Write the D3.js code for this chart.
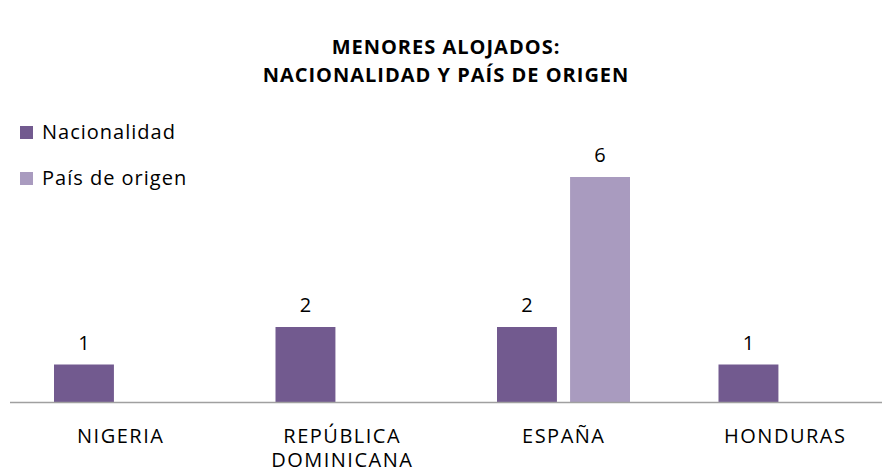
<!DOCTYPE html>
<html>
<head>
<meta charset="utf-8">
<script src="https://cdn.jsdelivr.net/npm/d3@7"></script>
<style>
  body { margin: 0; background: white; }
  svg { font-family: "Open Sans", sans-serif; }
</style>
</head>
<body>
<div id="chart"></div>
<script>
// data
const categories = ["NIGERIA", "REPÚBLICA\nDOMINICANA", "ESPAÑA", "HONDURAS"]
const seriesNames = ["Nacionalidad", "País de origen"]
const nacionalidad = [1, 2, 2, 1]
const paisOrigen = [null, null, 6, null]
const titleLines = ["MENORES ALOJADOS:", "NACIONALIDAD Y PAÍS DE ORIGEN"]

const W = 882, H = 474
const colors = ["#725a8f", "#a99bbf"]

let svg = d3.select("#chart").append("svg")
    .attr("width", W).attr("height", H)

// plot runs past the right edge like the original
let x0 = d3.scaleBand().domain(d3.range(categories.length)).range([10, 896])
let x1 = d3.scaleBand().domain([0, 1]).range([44, 177]).paddingInner(0.18)
let y = d3.scaleLinear().domain([0, 6]).range([402, 177])

let rows = categories.map((c, i) => ({ i: i, vals: [nacionalidad[i], paisOrigen[i]] }))

let g = svg.selectAll("g.cat").data(rows).enter().append("g")
    .attr("class", "cat")
    .attr("transform", d => `translate(${x0(d.i)},0)`)

let bars = g.selectAll("g.bar")
    .data(d => d.vals.map((v, s) => ({ v: v, s: s })).filter(d => d.v != null))
    .enter().append("g")

bars.append("rect")
    .attr("x", d => x1(d.s))
    .attr("width", x1.bandwidth())
    .attr("y", d => y(d.v))
    .attr("height", d => y(0) - y(d.v))
    .attr("fill", d => colors[d.s])

bars.append("text")
    .attr("x", d => x1(d.s) + x1.bandwidth() / 2)
    .attr("y", d => y(d.v) - 15)
    .attr("text-anchor", "middle")
    .attr("font-size", 20)
    .attr("fill", "#000")
    .text(d => d.v)

// baseline
svg.append("line")
    .attr("x1", 10).attr("x2", 896)
    .attr("y1", y(0) + 0.5).attr("y2", y(0) + 0.5)
    .attr("stroke", "#a0a0a0").attr("stroke-width", 1.5)

// category labels
let lab = svg.selectAll("text.cat").data(categories).enter().append("text")
    .attr("class", "cat")
    .attr("text-anchor", "middle")
    .attr("font-size", 20)
    .attr("letter-spacing", 1.5)
    .attr("fill", "#000")
    .attr("y", 443)
lab.selectAll("tspan").data((d, i) => d.split("\n").map(t => ({ t: t, i: i })))
    .enter().append("tspan")
    .attr("x", d => x0(d.i) + x0.bandwidth() / 2)
    .attr("dy", (d, j) => j == 0 ? 0 : 24)
    .text(d => d.t)

// title
svg.append("text")
    .attr("text-anchor", "middle")
    .attr("font-size", 20)
    .attr("font-weight", "bold")
    .attr("letter-spacing", 1)
    .selectAll("tspan").data(titleLines).enter().append("tspan")
    .attr("x", 446)
    .attr("y", (d, i) => 54 + i * 28)
    .text(d => d)

// legend
let leg = svg.selectAll("g.leg").data(seriesNames).enter().append("g")
    .attr("transform", (d, i) => `translate(20,${126 + i * 46})`)
leg.append("rect").attr("width", 13).attr("height", 13)
    .attr("fill", (d, i) => colors[i])
leg.append("text").attr("x", 22).attr("y", 13)
    .attr("font-size", 20)
    .attr("letter-spacing", 1)
    .text(d => d)
</script>
</body>
</html>
